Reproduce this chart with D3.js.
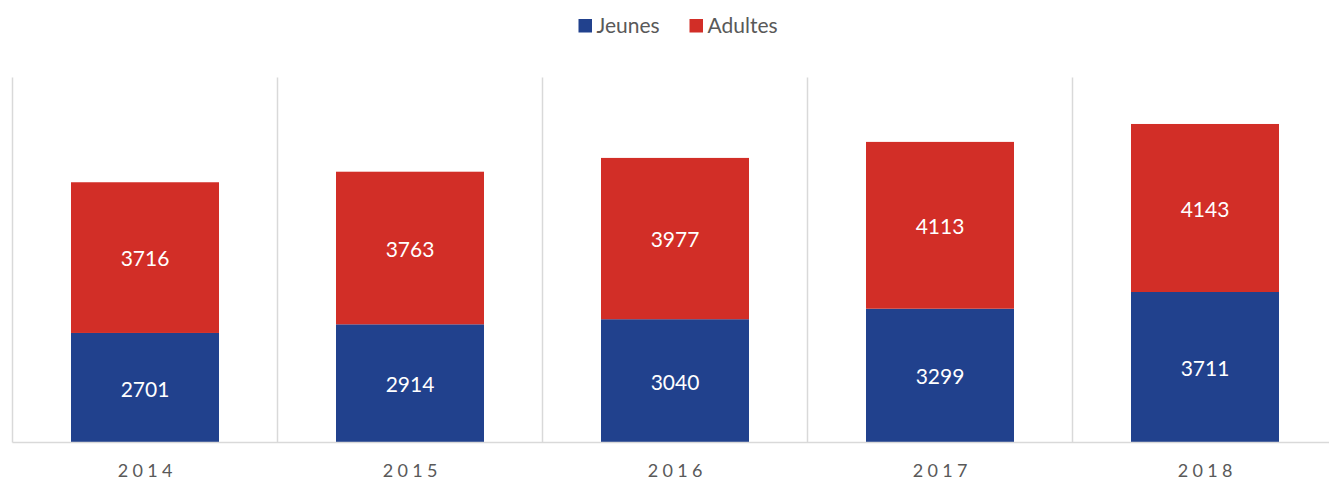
<!DOCTYPE html>
<html><head><meta charset="utf-8">
<script src="https://cdn.jsdelivr.net/npm/d3@7"></script>
<style>body{margin:0;background:#fff;}svg{display:block;}</style>
</head><body>
<script>
const years = ["2014","2015","2016","2017","2018"];
const jeunes = [2701,2914,3040,3299,3711];
const adultes = [3716,3763,3977,4113,4143];
const seriesNames = ["Jeunes","Adultes"];
const colors = ["#21418d","#d22e27"];

const W=1329,H=479;
const svg=d3.select("body").append("svg").attr("width",W).attr("height",H);
const x=d3.scaleBand().domain(years).range([12.5,1337.5]).paddingInner(0).paddingOuter(0);
const y=d3.scaleLinear().domain([0,9000]).range([442.5,77.5]);
const bw=148;

const seps=d3.range(years.length+1).map(i=>12.5+i*x.bandwidth());
svg.selectAll("line.sep").data(seps).enter().append("line")
 .attr("x1",d=>d).attr("x2",d=>d).attr("y1",y(9000)).attr("y2",y(0))
 .attr("stroke","#d9d9d9").attr("stroke-width",1.5);

const rows=years.map((yr,i)=>({year:yr,Jeunes:jeunes[i],Adultes:adultes[i]}));
const stack=d3.stack().keys(seriesNames)(rows);
stack.forEach((s,si)=>{
  const g=svg.append("g");
  g.selectAll("rect").data(s).enter().append("rect")
   .attr("x",d=>x(d.data.year)+x.bandwidth()/2-bw/2).attr("width",bw)
   .attr("y",d=>y(d[1])).attr("height",d=>y(d[0])-y(d[1]))
   .attr("fill",colors[si]);
  g.selectAll("text").data(s).enter().append("text")
   .attr("x",d=>x(d.data.year)+x.bandwidth()/2)
   .attr("y",d=>(y(d[0])+y(d[1]))/2)
   .attr("dy","0.42em").attr("text-anchor","middle")
   .attr("font-family","Lato, 'Open Sans', sans-serif").attr("font-size",21)
   .attr("fill","#fff").text(d=>d[1]-d[0]);
});

svg.append("line").attr("x1",12.5).attr("x2",W).attr("y1",y(0)).attr("y2",y(0))
 .attr("stroke","#d9d9d9").attr("stroke-width",1.5);

const ls=4.3;
svg.selectAll("text.yr").data(years).enter().append("text")
 .attr("x",d=>x(d)+x.bandwidth()/2+ls/2).attr("y",476.5)
 .attr("text-anchor","middle").attr("letter-spacing",ls)
 .attr("font-family","Lato, 'Open Sans', sans-serif").attr("font-size",18)
 .attr("fill","#595959").text(d=>d);

const leg=[{n:"Jeunes",c:colors[0],x:578.5},{n:"Adultes",c:colors[1],x:689.5}];
leg.forEach(l=>{
  svg.append("rect").attr("x",l.x).attr("y",19).attr("width",13.5).attr("height",13.5).attr("fill",l.c);
  svg.append("text").attr("x",l.x+18).attr("y",33).attr("font-family","Lato, 'Open Sans', sans-serif")
   .attr("font-size",21).attr("fill","#595959").text(l.n);
});
</script>
</body></html>
